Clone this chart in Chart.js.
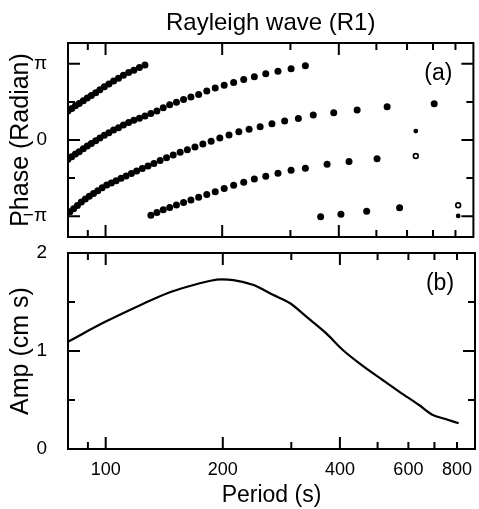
<!DOCTYPE html>
<html>
<head>
<meta charset="utf-8">
<script src="https://cdn.jsdelivr.net/npm/chart.js@4.4.0/dist/chart.umd.min.js"></script>
<style>
  html, body { margin: 0; padding: 0; background: #fff; }
  #wrap { position: relative; width: 479px; height: 509px; }
  canvas { position: absolute; left: 0; top: 0; }
</style>
</head>
<body>
<div id="wrap">
  <canvas id="phase" width="479" height="509"></canvas>
  <canvas id="amp" width="479" height="509"></canvas>
</div>
<script>
// --- data (period in s, phase in radian, amp in cm s) ---
const periodA = [80, 81.8, 83.6, 85.5, 87.6, 89.7, 91.9, 94.3, 96.7, 99.3, 102.0, 104.9, 108.0, 111.2, 114.7, 118.3, 122.3, 126.4];
const phaseA  = [1.20, 1.30, 1.41, 1.51, 1.62, 1.73, 1.84, 1.95, 2.07, 2.20, 2.31, 2.43, 2.55, 2.67, 2.78, 2.88, 2.99, 3.09];

const periodB = [80, 81.8, 83.6, 85.5, 87.6, 89.7, 91.9, 94.3, 96.7, 99.3, 102.0, 104.9, 108.0, 111.2, 114.7, 118.3, 122.3, 126.4,
                 130.9, 135.7, 140.9, 146.4, 152.4, 159.0, 166.1, 173.9, 182.5, 191.9, 202.4, 214.1, 227.3, 242.1, 259.1, 278.6, 301.2, 327.9];
const phaseB  = [-0.79, -0.69, -0.58, -0.48, -0.36, -0.25, -0.14, -0.03, 0.08, 0.20, 0.30, 0.41, 0.51, 0.62, 0.72, 0.81, 0.90, 0.99,
                 1.09, 1.20, 1.33, 1.45, 1.56, 1.67, 1.77, 1.88, 2.02, 2.14, 2.26, 2.37, 2.49, 2.61, 2.73, 2.83, 2.94, 3.06];

const periodC = [80.9, 82.7, 84.6, 86.6, 88.7, 90.8, 93.1, 95.5, 98.0, 100.7, 103.5, 106.5, 109.7, 113.0, 116.6, 120.3, 124.4, 128.7, 133.3, 138.3,
                 143.7, 149.5, 155.8, 162.6, 170.1, 178.3, 187.3, 197.2, 208.3, 220.8, 234.7, 250.6, 268.8, 289.9, 314.5, 343.6, 388, 446, 533, 705];
const phaseC  = [-2.96, -2.83, -2.70, -2.56, -2.43, -2.32, -2.21, -2.09, -1.97, -1.86, -1.77, -1.68, -1.58, -1.48, -1.38, -1.28, -1.18, -1.07, -0.97, -0.85,
                 -0.73, -0.62, -0.51, -0.40, -0.29, -0.17, -0.05, 0.08, 0.21, 0.34, 0.44, 0.55, 0.67, 0.78, 0.89, 1.03, 1.12, 1.24, 1.37, 1.49];

const periodD = [130.9, 135.7, 140.9, 146.4, 152.4, 159.0, 166.1, 173.9, 182.5, 191.9, 202.4, 214.1, 227.3, 242.1, 259.1, 278.6, 301.2, 327.9, 373, 425, 502];
const phaseD  = [-3.10, -2.99, -2.88, -2.78, -2.68, -2.58, -2.47, -2.36, -2.25, -2.13, -2.00, -1.87, -1.74, -1.61, -1.49, -1.37, -1.25, -1.16, -1.00, -0.89, -0.77];

const periodE = [359, 405, 472, 574];
const phaseE  = [-3.17, -3.06, -2.94, -2.79];

const periodSmall = [632, 813];
const phaseSmall  = [0.37, -3.13];
const periodOpen  = [632, 813];
const phaseOpen   = [-0.66, -2.69];

const ampPeriod = [80, 100, 123, 144, 162, 186, 198, 213, 240, 270, 298, 328, 369, 407, 449, 515, 568, 639, 691, 747, 808];
const ampValue  = [1.095, 1.30, 1.47, 1.59, 1.656, 1.717, 1.73, 1.724, 1.673, 1.571, 1.487, 1.35, 1.18, 1.01, 0.874, 0.704, 0.585, 0.449, 0.35, 0.306, 0.262];

// --- ticks ---
const xTickValues = [90, 100, 200, 300, 400, 500, 600, 700, 800];
const xTickLabels = ['', '100', '200', '', '400', '', '600', '', '800'];
const xMajor = [100, 200, 400];

const phaseTickValues = [-Math.PI, -Math.PI / 2, 0, Math.PI / 2, Math.PI];
const phaseTickLabels = ['\u2212\u03c0', '', '0', '', '\u03c0'];
const phaseMajor = [-Math.PI, 0, Math.PI];

const ampTickValues = [0, 0.5, 1, 1.5, 2];
const ampTickLabels = ['0', '', '1', '', '2'];
const ampMajor = [0, 1, 2];

const FONT = "'Liberation Sans', Arial, Helvetica, sans-serif";
Chart.defaults.font.family = FONT;
Chart.defaults.color = '#000';

const pts = (xs, ys) => xs.map((v, i) => ({x: v, y: ys[i]}));

// frame, inward ticks on all four sides, panel tag
const framePlugin = {
  id: 'frame',
  afterDatasetsDraw(chart, args, opts) {
    const {ctx, chartArea: a, scales: {x, y}} = chart;
    ctx.save();
    ctx.strokeStyle = '#000';
    ctx.lineWidth = 2;
    ctx.beginPath();
    xTickValues.forEach(v => {
      const px = x.getPixelForValue(v);
      const len = xMajor.includes(v) ? 12 : 7;
      ctx.moveTo(px, a.top); ctx.lineTo(px, a.top + len);
      ctx.moveTo(px, a.bottom); ctx.lineTo(px, a.bottom - len);
    });
    opts.yTicks.forEach(v => {
      const py = y.getPixelForValue(v);
      const len = opts.yMajor.includes(v) ? 12 : 7;
      ctx.moveTo(a.left, py); ctx.lineTo(a.left + len, py);
      ctx.moveTo(a.right, py); ctx.lineTo(a.right - len, py);
    });
    ctx.stroke();
    ctx.strokeRect(a.left, a.top, a.right - a.left, a.bottom - a.top);
    ctx.fillStyle = '#000';
    ctx.font = '23px ' + FONT;
    ctx.textAlign = 'center';
    ctx.textBaseline = 'middle';
    ctx.fillText(opts.tag, a.right - 35, a.top + 31);
    ctx.restore();
  }
};

const xScale = (show) => ({
  type: 'logarithmic',
  min: 80,
  max: 890,
  display: show,
  grid: {display: false},
  border: {display: false},
  afterBuildTicks: s => { s.ticks = xTickValues.map(v => ({value: v})); },
  afterFit: s => { if (show) s.height = 60; },
  ticks: {
    autoSkip: false, maxRotation: 0, padding: 2,
    font: {size: 18},
    callback: (v, i) => xTickLabels[i]
  },
  title: {display: true, text: 'Period (s)', font: {size: 23}, padding: {top: 0, bottom: 0}}
});

const R = 3.5;

new Chart(document.getElementById('phase'), {
  type: 'scatter',
  data: {
    datasets: [
      {data: pts(periodA, phaseA), pointRadius: R, pointBackgroundColor: '#000', pointBorderWidth: 0},
      {data: pts(periodB, phaseB), pointRadius: R, pointBackgroundColor: '#000', pointBorderWidth: 0},
      {data: pts(periodC, phaseC), pointRadius: R, pointBackgroundColor: '#000', pointBorderWidth: 0},
      {data: pts(periodD, phaseD), pointRadius: R, pointBackgroundColor: '#000', pointBorderWidth: 0},
      {data: pts(periodE, phaseE), pointRadius: R, pointBackgroundColor: '#000', pointBorderWidth: 0},
      {data: pts(periodSmall, phaseSmall), pointRadius: 2.4, pointBackgroundColor: '#000', pointBorderWidth: 0},
      {data: pts(periodOpen, phaseOpen), pointRadius: 2.4, pointBackgroundColor: '#fff', pointBorderColor: '#000', pointBorderWidth: 1.6}
    ]
  },
  options: {
    responsive: false,
    animation: false,
    devicePixelRatio: 1,
    layout: {padding: {top: 0, right: 4, bottom: 272, left: 0}},
    plugins: {
      legend: {display: false},
      tooltip: {enabled: false},
      title: {display: true, fullSize: false, text: 'Rayleigh wave (R1)', font: {size: 24, weight: 'normal'}, color: '#000', padding: {top: 9, bottom: 5.2}},
      frame: {yTicks: phaseTickValues, yMajor: phaseMajor, tag: '(a)'}
    },
    scales: {
      x: xScale(false),
      y: {
        min: -4, max: 4,
        grid: {display: false},
        border: {display: false},
        afterBuildTicks: s => { s.ticks = phaseTickValues.map(v => ({value: v})); },
        afterFit: s => { s.width = 68; },
        ticks: {padding: 13, font: {size: 19}, callback: (v, i) => phaseTickLabels[i]},
        title: {display: true, text: 'Phase (Radian)', font: {size: 25}, padding: {top: 6, bottom: 0}}
      }
    }
  },
  plugins: [framePlugin]
});

new Chart(document.getElementById('amp'), {
  type: 'line',
  data: {
    datasets: [{
      data: pts(ampPeriod, ampValue),
      borderColor: '#000', borderWidth: 2.2, pointRadius: 0,
      cubicInterpolationMode: 'monotone', fill: false
    }]
  },
  options: {
    responsive: false,
    animation: false,
    devicePixelRatio: 1,
    layout: {padding: {top: 253, right: 4, bottom: 0, left: 0}},
    plugins: {
      legend: {display: false},
      tooltip: {enabled: false},
      frame: {yTicks: ampTickValues, yMajor: ampMajor, tag: '(b)'}
    },
    scales: {
      x: xScale(true),
      y: {
        min: 0, max: 2,
        grid: {display: false},
        border: {display: false},
        afterBuildTicks: s => { s.ticks = ampTickValues.map(v => ({value: v})); },
        afterFit: s => { s.width = 68; },
        ticks: {padding: 13, font: {size: 19}, callback: (v, i) => ampTickLabels[i]},
        title: {display: true, text: 'Amp (cm s)', font: {size: 25}, padding: {top: 6, bottom: 0}}
      }
    }
  },
  plugins: [framePlugin]
});
</script>
</body>
</html>
